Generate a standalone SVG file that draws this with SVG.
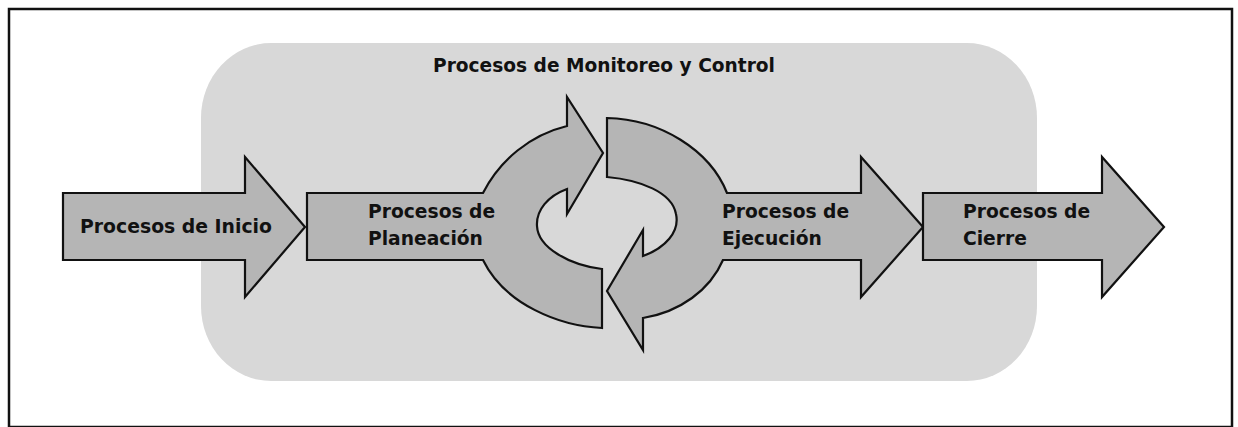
<svg xmlns="http://www.w3.org/2000/svg" width="1238" height="427" viewBox="0 0 1238 427">
<style>
.arrow{fill:#b5b5b5;stroke:#111;stroke-width:2.2;stroke-linejoin:miter}
.lbl{font-family:"DejaVu Sans",Verdana,sans-serif;font-weight:bold;font-size:18.7px;fill:#111}
</style>
<rect x="0" y="0" width="1238" height="427" fill="#fff"/>
<rect x="9" y="9" width="1223" height="418" fill="#fff" stroke="#111" stroke-width="2.5"/>
<g id="monitoreo">
<rect x="201" y="43" width="836" height="338" rx="70" ry="75" fill="#d8d8d8"/>
<text class="lbl" x="433" y="72" textLength="342" lengthAdjust="spacingAndGlyphs">Procesos de Monitoreo y Control</text>
</g>
<g id="connectors"></g>
<g id="inicio">
<polygon class="arrow" points="63,193 245,193 245,157 305,227 245,297 245,260 63,260"/>
<text class="lbl" x="80" y="233" textLength="192" lengthAdjust="spacingAndGlyphs">Procesos de Inicio</text>
</g>
<g id="planeacion">
<path class="arrow" d="M307,193 L483,193 C500,160 530,135 567,126 L567,97 L603,153 L567,214 L567,189 C548,196 536,210 537,226 C538,248 570,265 602,269 L602,328 C560,326 505,305 483,260 L307,260 Z"/>
<text class="lbl" x="368" y="218">Procesos de</text>
<text class="lbl" x="368" y="245">Planeación</text>
</g>
<g id="ejecucion">
<path class="arrow" d="M607,118 C660,119 710,150 727,193 L861,193 L861,157 L923,227 L861,297 L861,260 L723,260 C710,290 680,312 643,318 L643,350 L607,291 L643,230 L643,256 C665,248 680,232 676,214 C672,192 640,180 607,177 Z"/>
<text class="lbl" x="722" y="218">Procesos de</text>
<text class="lbl" x="722" y="245">Ejecución</text>
</g>
<g id="cierre">
<polygon class="arrow" points="923,193 1102,193 1102,157 1164,227 1102,297 1102,260 923,260"/>
<text class="lbl" x="963" y="218">Procesos de</text>
<text class="lbl" x="963" y="245">Cierre</text>
</g>
</svg>
